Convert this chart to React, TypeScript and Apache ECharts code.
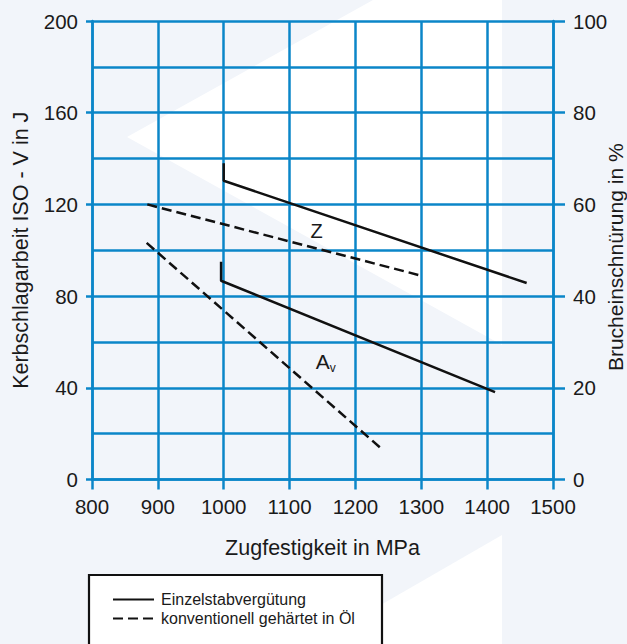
import React, { useEffect, useRef } from "react";
import * as echarts from "echarts";

// X: Zugfestigkeit in MPa; Y-left: Kerbschlagarbeit (J)
const xTicks = [800, 900, 1000, 1100, 1200, 1300, 1400, 1500];
const leftTicks = [0, 40, 80, 120, 160, 200];
const rightTicks = [0, 20, 40, 60, 80, 100];

// Curves in left-axis units (J); Z curve values read against left axis
const zSolid: [number, number][] = [[1000, 138], [1000, 130.3], [1460, 85.7]];
const zDashed: [number, number][] = [[884, 120], [1300, 88.9]];
const avSolid: [number, number][] = [[996, 95], [996, 86.7], [1412, 38.1]];
const avDashed: [number, number][] = [[883, 103.2], [1238, 13.8]];

const curveLabels: { name: string; value: [number, number]; text: string }[] = [
  { name: "Z", value: [1141, 108.2], text: "Z" },
  { name: "Av", value: [1155, 51.5], text: "{a|A}{s|v}" },
];

const legendNames = ["Einzelstabvergütung", "konventionell gehärtet in Öl"];

const FONT = "Liberation Sans, Arial, Helvetica, sans-serif";
const BLUE = "#0b86c8";
const TXT = "#1a1a1a";
const INK = "#111111";

export default function App() {
  const ref = useRef<HTMLDivElement>(null);
  useEffect(() => {
    document.body.style.margin = "0";
    const chart = echarts.init(ref.current!, null, { renderer: "svg" });
    const lineBase = { type: "line", symbol: "none", silent: true, z: 5, itemStyle: { color: INK } } as any;
    chart.setOption({
      animation: false,
      backgroundColor: "#f2f5fa",
      textStyle: { fontFamily: FONT },
      grid: { left: 92, right: 74, top: 21, bottom: 164.5, outerBoundsMode: "none", containLabel: false },
      graphic: [
        {
          type: "polygon",
          z: -10,
          shape: { points: [[127, 137], [373, 0], [502, 0], [502, 345]] },
          style: { fill: "#ffffff" },
        },
        {
          type: "polygon",
          z: -10,
          shape: { points: [[502, 535], [502, 644], [313, 644]] },
          style: { fill: "#ffffff" },
        },
        {
          type: "rect",
          z: 1,
          shape: { x: 89, y: 575, width: 293, height: 120 },
          style: { fill: "#ffffff", stroke: "#111", lineWidth: 2.2 },
        },
      ],
      legend: {
        data: legendNames,
        orient: "vertical",
        left: 107,
        top: 585,
        itemWidth: 41,
        itemHeight: 12,
        itemGap: 0,
        z: 10,
        selectedMode: false,
        itemStyle: { opacity: 0 },
        textStyle: { fontSize: 16, color: TXT, lineHeight: 19, padding: [0, 0, 0, 2], fontFamily: FONT },
      },
      xAxis: {
        type: "value",
        min: 800,
        max: 1500,
        interval: 100,
        axisLine: { show: true, lineStyle: { color: BLUE, width: 2.5 } },
        axisTick: { show: true, length: 10, lineStyle: { color: BLUE, width: 2.5 } },
        axisLabel: { fontSize: 20.5, color: TXT, margin: 16, formatter: (v: number) => (xTicks.includes(v) ? String(v) : "") },
        splitLine: { show: true, lineStyle: { color: BLUE, width: 2.5 } },
        name: "Zugfestigkeit in MPa",
        nameLocation: "middle",
        nameGap: 57,
        nameMoveOverlap: false,
        nameTextStyle: { fontSize: 21.5, color: TXT },
      },
      yAxis: [
        {
          type: "value",
          min: 0,
          max: 200,
          interval: 40,
          position: "left",
          axisLine: { show: true, lineStyle: { color: BLUE, width: 2.5 } },
          axisTick: { show: true, length: 6, lineStyle: { color: BLUE, width: 2.5 } },
          minorTick: { show: false, splitNumber: 2 },
          minorSplitLine: { show: true, lineStyle: { color: BLUE, width: 2.5 } },
          axisLabel: { fontSize: 20.5, color: TXT, margin: 14, formatter: (v: number) => (leftTicks.includes(v) ? String(v) : "") },
          splitLine: { show: true, lineStyle: { color: BLUE, width: 2.5 } },
          name: "Kerbschlagarbeit ISO - V in J",
          nameLocation: "middle",
          nameGap: 60,
          nameMoveOverlap: false,
          nameTextStyle: { fontSize: 21.5, color: TXT },
        },
        {
          type: "value",
          min: 0,
          max: 100,
          interval: 20,
          position: "right",
          axisLine: { show: true, lineStyle: { color: BLUE, width: 2.5 } },
          axisTick: { show: true, length: 12, lineStyle: { color: BLUE, width: 2.5 } },
          axisLabel: { fontSize: 20.5, color: TXT, margin: 20, formatter: (v: number) => (rightTicks.includes(v) ? String(v) : "") },
          splitLine: { show: false },
          name: "Brucheinschnürung in %",
          nameLocation: "middle",
          nameRotate: 90,
          nameGap: 52,
          nameMoveOverlap: false,
          nameTextStyle: { fontSize: 21, color: TXT, padding: [0, 14, 0, 0] },
        },
      ],
      series: [
        { ...lineBase, name: legendNames[0], data: zSolid, lineStyle: { color: INK, width: 2.5 } },
        { ...lineBase, name: legendNames[1], data: zDashed, lineStyle: { color: INK, width: 2.5, type: [10, 5] } },
        { ...lineBase, name: legendNames[0], data: avSolid, lineStyle: { color: INK, width: 2.5 } },
        { ...lineBase, name: legendNames[1], data: avDashed, lineStyle: { color: INK, width: 2.5, type: [10, 5] } },
        {
          type: "scatter",
          name: "labels",
          symbolSize: 0,
          silent: true,
          z: 6,
          itemStyle: { opacity: 1 },
          data: curveLabels.map((d) => ({
            name: d.name,
            value: d.value,
            label: {
              show: true,
              position: "inside",
              formatter: d.text,
              fontSize: 20,
              color: TXT,
              opacity: 1,
              rich: {
                a: { fontSize: 21, color: TXT, fontFamily: FONT },
                s: { fontSize: 12, color: TXT, fontFamily: FONT, padding: [14, 0, 0, 0] },
              },
            },
          })),
        },
      ],
    });
    return () => chart.dispose();
  }, []);
  return <div ref={ref} style={{ width: 627, height: 644 }} />;
}
